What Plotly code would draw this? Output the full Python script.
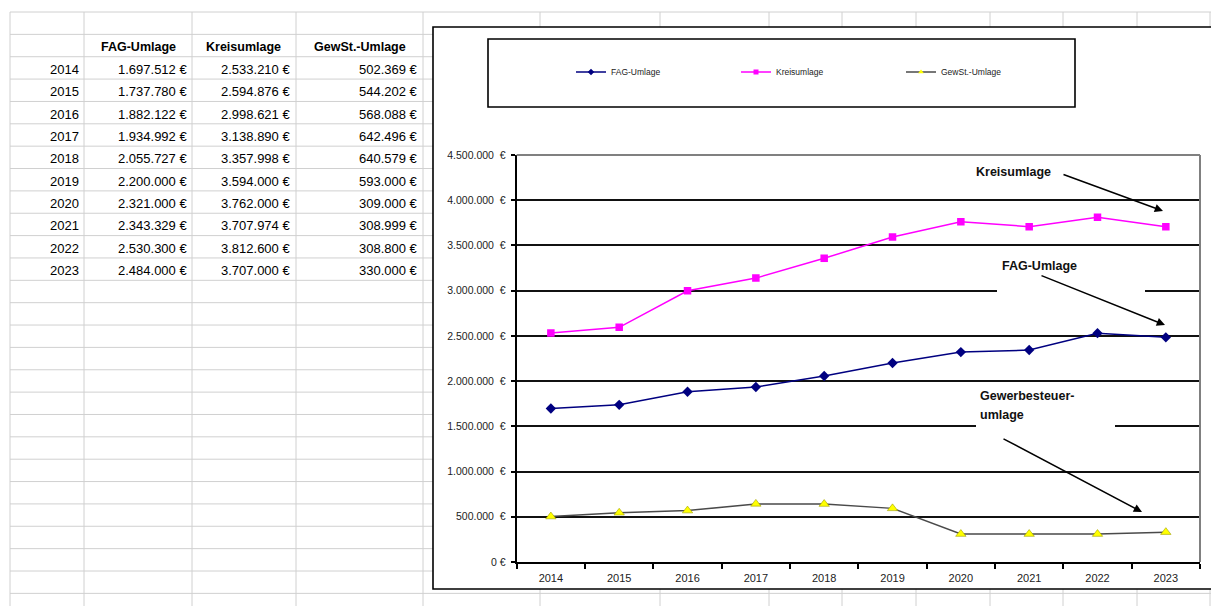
import plotly.graph_objects as go

# ---- data -----------------------------------------------------------------
years = ["2014", "2015", "2016", "2017", "2018", "2019", "2020", "2021", "2022", "2023"]
fag_umlage = [1697512, 1737780, 1882122, 1934992, 2055727, 2200000, 2321000, 2343329, 2530300, 2484000]
kreisumlage = [2533210, 2594876, 2998621, 3138890, 3357998, 3594000, 3762000, 3707974, 3812600, 3707000]
gewst_umlage = [502369, 544202, 568088, 642496, 640579, 593000, 309000, 308999, 308800, 330000]
series_names = ["FAG-Umlage", "Kreisumlage", "GewSt.-Umlage"]
table_headers = ["FAG-Umlage", "Kreisumlage", "GewSt.-Umlage"]
y_tick_values = [0, 500000, 1000000, 1500000, 2000000, 2500000, 3000000, 3500000, 4000000, 4500000]

# ---- page geometry (pixels) ------------------------------------------------
W, H = 1211, 606
FONT = "Arial, 'Liberation Sans', sans-serif"


def px(x):
    return x / W


def py(y):
    return 1 - y / H


def euro(v):
    return f"{v:,}".replace(",", ".") + " €"


def tick_euro(v):
    if v == 0:
        return "0 €"
    return f"{v:,}".replace(",", ".") + "\u00a0\u00a0€"


shapes = []
annotations = []

# spreadsheet cell grid
ROW0, ROW_H = 12.0, 22.36
col_lines = [10, 84, 192, 296, 423, 540, 660, 769, 842, 916, 990, 1063, 1137, 1210]
for k in range(27):
    yy = ROW0 + k * ROW_H
    shapes.append(dict(type="line", xref="paper", yref="paper", layer="below",
                       x0=px(10), x1=px(1211), y0=py(yy), y1=py(yy),
                       line=dict(color="#d0d0d0", width=1)))
for xx in col_lines:
    shapes.append(dict(type="line", xref="paper", yref="paper", layer="below",
                       x0=px(xx), x1=px(xx), y0=py(ROW0), y1=py(606),
                       line=dict(color="#d0d0d0", width=1)))

# chart object frame
shapes.append(dict(type="rect", xref="paper", yref="paper", layer="below",
                   x0=px(433), x1=px(1230), y0=py(589), y1=py(27),
                   fillcolor="white", line=dict(color="black", width=1.6)))
# legend frame
shapes.append(dict(type="rect", xref="paper", yref="paper", layer="below",
                   x0=px(488), x1=px(1075), y0=py(107), y1=py(39),
                   fillcolor="white", line=dict(color="black", width=1.6)))

# plot-area border (top and right)
PL, PR, PT, PB = 516.7, 1200, 155, 562
shapes.append(dict(type="line", xref="paper", yref="paper", layer="above",
                   x0=px(PL), x1=px(PR), y0=py(PT), y1=py(PT),
                   line=dict(color="#808080", width=2)))
shapes.append(dict(type="line", xref="paper", yref="paper", layer="above",
                   x0=px(PR), x1=px(PR), y0=py(PT), y1=py(PB),
                   line=dict(color="#808080", width=2)))

# white backing boxes behind the callout labels
shapes.append(dict(type="rect", xref="paper", yref="paper", layer="above",
                   x0=px(997), x1=px(1145), y0=py(294), y1=py(254),
                   fillcolor="white", line=dict(width=0)))
shapes.append(dict(type="rect", xref="paper", yref="paper", layer="above",
                   x0=px(976), x1=px(1115), y0=py(431), y1=py(385),
                   fillcolor="white", line=dict(width=0)))

# ---- table text ------------------------------------------------------------
header_y = ROW0 + ROW_H * 1.5 + 1.5
header_centers = [138, 244, 360]
for name, cx in zip(table_headers, header_centers):
    annotations.append(dict(xref="paper", yref="paper", x=px(cx), y=py(header_y),
                            text=f"<b>{name}</b>", showarrow=False,
                            xanchor="center", yanchor="middle",
                            font=dict(family=FONT, size=12.5, color="black")))

col_right = [81, 189, 292, 420]
for i, yr in enumerate(years):
    ry = ROW0 + ROW_H * (2.5 + i) + 1.5
    cells = [yr, euro(fag_umlage[i]), euro(kreisumlage[i]), euro(gewst_umlage[i])]
    for txt, rx in zip(cells, col_right):
        annotations.append(dict(xref="paper", yref="paper", x=px(rx), y=py(ry),
                                text=txt, showarrow=False,
                                xanchor="right", yanchor="middle",
                                font=dict(family=FONT, size=13, color="black")))

# ---- callout labels and arrows --------------------------------------------
label_font = dict(family=FONT, size=12.5, color="#111")
annotations.append(dict(xref="paper", yref="paper", x=px(1013), y=py(172),
                        text="<b>Kreisumlage</b>", showarrow=False,
                        xanchor="center", yanchor="middle", font=label_font))
annotations.append(dict(xref="paper", yref="paper", x=px(1000), y=py(266),
                        text="<b>FAG-Umlage</b>", showarrow=False,
                        xanchor="left", yanchor="middle", font=label_font))
annotations.append(dict(xref="paper", yref="paper", x=px(978), y=py(396),
                        text="<b>Gewerbesteuer-</b>", showarrow=False,
                        xanchor="left", yanchor="middle", font=label_font))
annotations.append(dict(xref="paper", yref="paper", x=px(978), y=py(415),
                        text="<b>umlage</b>", showarrow=False,
                        xanchor="left", yanchor="middle", font=label_font))

arrows = [((1062, 174), (1163, 211)),
          ((1040, 275), (1165, 325)),
          ((1002, 438), (1142, 512))]
for (tx, ty), (hx, hy) in arrows:
    annotations.append(dict(xref="paper", yref="paper", x=px(hx), y=py(hy),
                            ax=tx - hx, ay=ty - hy, axref="pixel", ayref="pixel",
                            text="", showarrow=True, arrowhead=2, arrowsize=1.1,
                            arrowwidth=1.5, arrowcolor="black", standoff=0))

# ---- series ----------------------------------------------------------------
styles = [
    dict(line=dict(color="#000080", width=1.5),
         marker=dict(symbol="diamond", size=8, color="#000080")),
    dict(line=dict(color="#FF00FF", width=1.5),
         marker=dict(symbol="square", size=7.5, color="#FF00FF")),
    dict(line=dict(color="#4a4a4a", width=1.5),
         marker=dict(symbol="triangle-up", size=9, color="#FFFF00",
                     line=dict(color="#a0a000", width=0.6))),
]
legend_markers = [
    dict(symbol="diamond", size=5, color="#000080"),
    dict(symbol="square", size=5, color="#FF00FF"),
    dict(symbol="triangle-up", size=5, color="#FFFF00"),
]

fig = go.Figure()
for name, values, st in zip(series_names, [fag_umlage, kreisumlage, gewst_umlage], styles):
    fig.add_trace(go.Scatter(x=years, y=values, name=name, mode="lines+markers",
                             legendgroup=name, showlegend=False, **st))
# compact legend entries (smaller symbols than on the plotted lines)
for name, st, mk in zip(series_names, styles, legend_markers):
    fig.add_trace(go.Scatter(x=[None], y=[None], name=name, mode="lines+markers",
                             legendgroup=name, showlegend=True,
                             line=st["line"], marker=mk))

fig.update_layout(
    width=W, height=H,
    margin=dict(l=0, r=0, t=0, b=0, pad=0, autoexpand=False),
    paper_bgcolor="white", plot_bgcolor="rgba(0,0,0,0)",
    font=dict(family=FONT, color="#222"),
    shapes=shapes,
    annotations=annotations,
    showlegend=True,
    legend=dict(orientation="h", x=px(571), xanchor="left", y=py(72), yanchor="middle",
                font=dict(family=FONT, size=8.5, color="#222"),
                entrywidth=120, entrywidthmode="pixels",
                bgcolor="rgba(0,0,0,0)", borderwidth=0, traceorder="normal"),
    xaxis=dict(domain=[px(PL), px(PR)], type="category", range=[-0.5, 9.5],
               tickson="boundaries", ticks="outside", ticklen=5, tickwidth=1.5,
               tickcolor="black", showline=True, linewidth=2, linecolor="black",
               showgrid=False, zeroline=False, automargin=False,
               ticklabelstandoff=5,
               tickfont=dict(family=FONT, size=11, color="#222")),
    yaxis=dict(domain=[py(PB), py(PT)], range=[0, 4500000],
               tickvals=y_tick_values, ticktext=[tick_euro(v) for v in y_tick_values],
               ticks="outside", ticklen=4, tickwidth=1.5, tickcolor="black",
               showline=True, linewidth=2, linecolor="black",
               showgrid=True, gridcolor="#111", gridwidth=1.8, zeroline=False,
               ticklabelstandoff=3, automargin=False,
               tickfont=dict(family=FONT, size=10.5, color="#222")),
)

fig.write_html("out.html")
